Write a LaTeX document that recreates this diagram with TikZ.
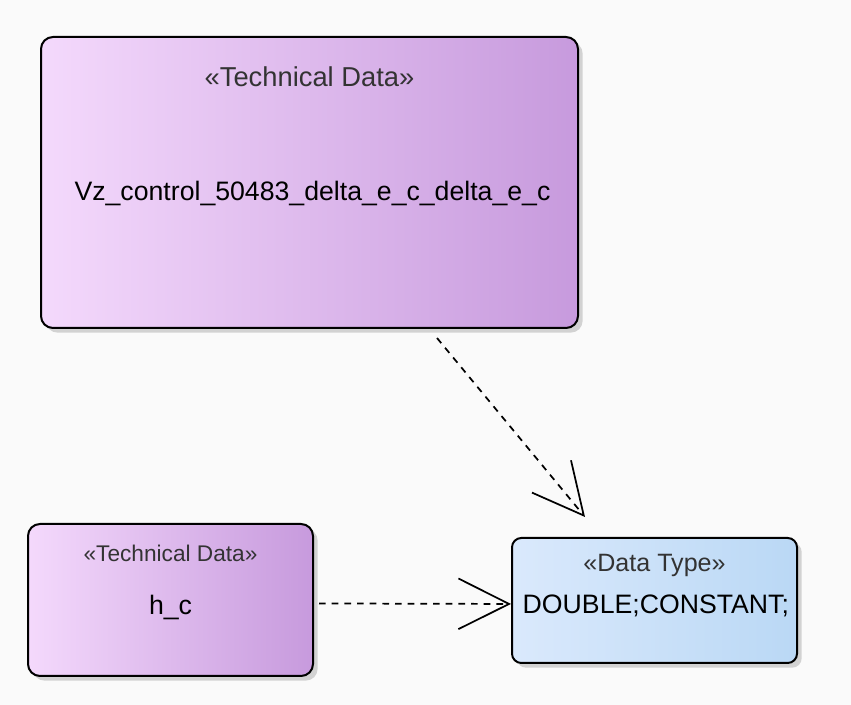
\documentclass[tikz,border=0pt]{standalone}
\usepackage{fontspec}
\setmainfont{Liberation Sans}
\usepackage{xcolor}
\usetikzlibrary{arrows.meta, shadows, positioning}
\definecolor{techleft}{RGB}{244,217,252}
\definecolor{techright}{RGB}{199,154,221}
\definecolor{typeleft}{RGB}{218,233,252}
\definecolor{typeright}{RGB}{186,216,245}
\definecolor{canvas}{RGB}{250,250,250}
\tikzstyle{techdata} = [rectangle, rounded corners=9pt, draw=black, line width=1.5pt, left color=techleft, right color=techright, drop shadow={shadow xshift=3.5pt, shadow yshift=-3.5pt, fill=black!33}]
\tikzstyle{datatype} = [rectangle, rounded corners=7pt, draw=black, line width=1.5pt, left color=typeleft, right color=typeright, drop shadow={shadow xshift=3.5pt, shadow yshift=-3.5pt, fill=black!33}]
\tikzstyle{stereo} = [inner sep=0pt, text=black!80]
\tikzstyle{maintext} = [inner sep=0pt, font=\fontsize{20}{24}\selectfont]
\tikzstyle{arrow} = [line width=1.3pt, dash pattern=on 5pt off 4.5pt, -{Straight Barb[length=38pt, width=38pt]}]

\begin{document}
\begin{tikzpicture}[x=0.75pt, y=-0.75pt]
        \useasboundingbox [fill=canvas] (0,0) rectangle (851,705);
        % boxes
        \node (vz) [techdata, minimum width=402.75pt, minimum height=218.25pt] at (309.5,182.5) {};
        \node (vzstereo) [stereo, font=\fontsize{20.5}{24}\selectfont, below=23pt of vz.north] {«Technical Data»};
        \node (vzname) [maintext, below=70pt of vzstereo, xshift=2.25pt] {Vz\_control\_50483\_delta\_e\_c\_delta\_e\_c};
        \node (hc) [techdata, minimum width=213.75pt, minimum height=114pt] at (170.5,600) {};
        \node (hcstereo) [stereo, font=\fontsize{17}{20}\selectfont, below=16.5pt of hc.north] {«Technical Data»};
        \node (hcname) [maintext, below=24.5pt of hcstereo] {h\_c};
        \node (dt) [datatype, minimum width=213.75pt, minimum height=93.75pt] at (654.5,600.5) {};
        \node (dtstereo) [stereo, font=\fontsize{18.8}{22}\selectfont, below=13pt of dt.north] {«Data Type»};
        \node (dtname) [maintext, below=13pt of dtstereo, xshift=1pt] {DOUBLE;CONSTANT;};
        % dependencies
        \coordinate (vzout) at (437,338);
        \coordinate (dtin) at (585,517);
        \draw [arrow] (vzout) -- (dtin);
        \draw [arrow] ([xshift=3.75pt, yshift=-2.6pt]hc.east) -- ([yshift=-2.6pt]dt.west);
    \end{tikzpicture}
\end{document}
